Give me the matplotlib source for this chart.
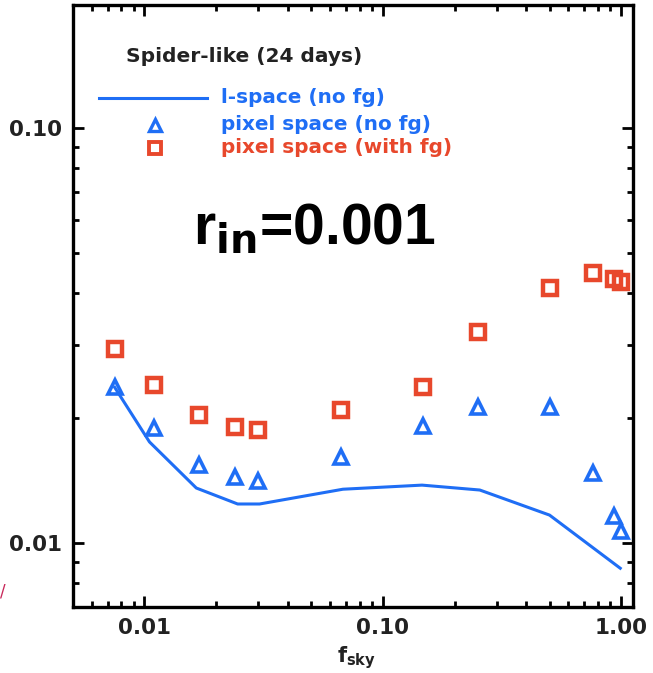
import numpy as np
import matplotlib
matplotlib.use('Agg')
import matplotlib.pyplot as plt
from matplotlib.ticker import FixedLocator, LogLocator, NullFormatter, FixedFormatter

plt.rcParams['font.family'] = ['DejaVu Sans']

# sky fraction sampled
f_sky = [0.0075, 0.011, 0.017, 0.024, 0.030, 0.067, 0.147, 0.25, 0.50, 0.76, 0.935, 1.0]
# pixel space, with foregrounds
pix_fg = [0.0294, 0.0240, 0.0203, 0.0190, 0.0187, 0.0209, 0.0237, 0.0322, 0.0411, 0.0447, 0.0432, 0.0425]
# pixel space, no foregrounds
pix_nofg = [0.0237, 0.0189, 0.0154, 0.0144, 0.0141, 0.0161, 0.0191, 0.0213, 0.0212, 0.0147, 0.0116, 0.0107]
# l-space curve
l_fsky = [0.0075, 0.0105, 0.0165, 0.0246, 0.0304, 0.068, 0.146, 0.255, 0.50, 0.99]
l_nofg = [0.0237, 0.0175, 0.01355, 0.0124, 0.0124, 0.01346, 0.01377, 0.0134, 0.01166, 0.00868]

blue = '#1f6ef5'
red = '#e8482c'

fig = plt.figure(figsize=(6.53, 6.73), dpi=100)
ax = fig.add_axes([0.1113, 0.0981, 0.9694 - 0.1113, 0.9926 - 0.0981])

ax.plot(l_fsky, l_nofg, color=blue, lw=2.2)
ax.plot(f_sky, pix_nofg, linestyle='none', marker='^', ms=10, mfc='none',
        mec=blue, mew=2.6)
ax.plot(f_sky, pix_fg, linestyle='none', marker='s', ms=10, mfc='none',
        mec=red, mew=3.2)

ax.set_xscale('log')
ax.set_yscale('log')
ax.set_xlim(0.005, 1.12)
ax.set_ylim(0.007, 0.198)

ax.xaxis.set_major_locator(FixedLocator([0.01, 0.1, 1.0]))
ax.xaxis.set_major_formatter(FixedFormatter(['0.01', '0.10', '1.00']))
ax.xaxis.set_minor_locator(LogLocator(base=10, subs=np.arange(2, 10)))
ax.xaxis.set_minor_formatter(NullFormatter())
ax.yaxis.set_major_locator(FixedLocator([0.01, 0.1]))
ax.yaxis.set_major_formatter(FixedFormatter(['0.01', '0.10']))
ax.yaxis.set_minor_locator(LogLocator(base=10, subs=np.arange(2, 10)))
ax.yaxis.set_minor_formatter(NullFormatter())

for s in ax.spines.values():
    s.set_linewidth(2.4)
ax.tick_params(which='both', direction='in', top=True, right=True, width=2.0)
ax.tick_params(which='major', length=8, labelsize=15.5, pad=8)
ax.tick_params(which='minor', length=4)
for lab in ax.get_xticklabels() + ax.get_yticklabels():
    lab.set_fontweight('bold')
    lab.set_color('#222222')

# legend drawn by hand in axes coordinates
def ax_xy(px, py):
    x0, y0, w, h = 72.7, 5.0, 633 - 72.7, 607 - 5.0
    return (px - x0) / w, 1 - (py - y0) / h

ax.text(*ax_xy(126, 57), 'Spider-like (24 days)', transform=ax.transAxes,
        fontsize=14.5, fontweight='bold', color='#222222', va='center', ha='left')
lx0, ly = ax_xy(99, 98)
lx1, _ = ax_xy(207, 98)
ax.plot([lx0, lx1], [ly, ly], transform=ax.transAxes, color=blue, lw=2.2)
mx, my1 = ax_xy(155, 125)
_, my2 = ax_xy(155, 148)
ax.plot([mx], [my1], transform=ax.transAxes, marker='^', ms=8, mfc='none',
        mec=blue, mew=2.4)
ax.plot([mx], [my2], transform=ax.transAxes, marker='s', ms=8, mfc='none',
        mec=red, mew=2.8)
tx, _ = ax_xy(221, 0)
for py, txt, c in [(98, 'l-space (no fg)', blue),
                   (125, 'pixel space (no fg)', blue),
                   (148, 'pixel space (with fg)', red)]:
    ax.text(tx, ax_xy(0, py)[1], txt, transform=ax.transAxes, fontsize=14.4,
            fontweight='bold', color=c, va='center', ha='left')

ax.text(*ax_xy(193, 230), r'r$_{\mathbf{in}}$=0.001', transform=ax.transAxes,
        fontsize=41, fontweight='bold', family='Liberation Sans',
        va='center', ha='left', color='black')

fig.text(337 / 653, 2 / 673, r'f$_{\mathbf{sky}}$', fontsize=15,
         fontweight='bold', color='#222222', va='bottom', ha='left')
fig.text(0.0, 1 - 592 / 673, '/', fontsize=12, color='#c8285a',
         va='center', ha='left')

fig.savefig('out.png', dpi=100)
